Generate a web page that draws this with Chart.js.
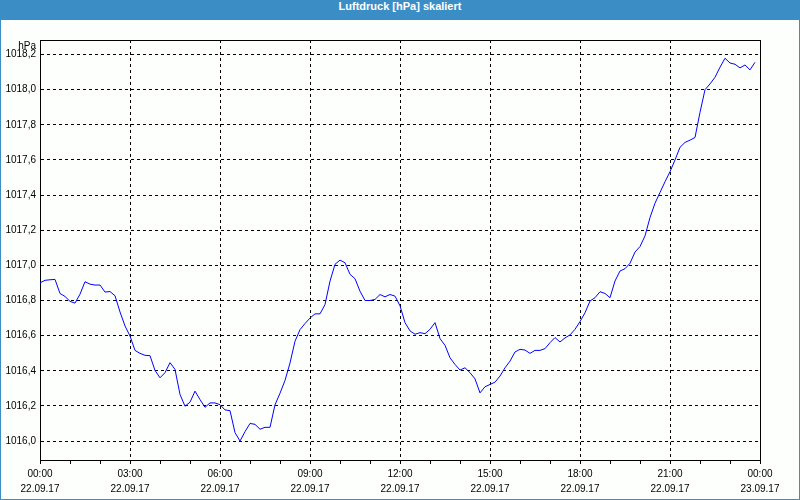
<!DOCTYPE html>
<html>
<head>
<meta charset="utf-8">
<script src="https://cdn.jsdelivr.net/npm/chart.js@4.4.1/dist/chart.umd.min.js"></script>
<style>
body{margin:0;background:#fff;}
#frame{position:relative;width:800px;height:500px;background:#3b8dc6;}
#title{height:20px;line-height:20px;text-align:center;color:#fff;font:bold 11px "Liberation Sans",Arial,sans-serif;}
#box{position:absolute;left:1px;top:20px;width:798px;height:479px;background:#fdfffd;}
</style>
</head>
<body>
<div id="frame">
<div id="title">Luftdruck [hPa] skaliert</div>
<div id="box"><canvas id="myChart"></canvas></div>
</div>
<script>
// Luftdruck 22.09.17, alle 10 Minuten ab 00:00
var stepHours=10/60;
var pressure=[
1016.900,1016.915,1016.918,1016.920,1016.840,1016.823,
1016.795,1016.785,1016.836,1016.907,1016.893,1016.888,
1016.888,1016.848,1016.851,1016.827,1016.735,1016.655,
1016.598,1016.516,1016.499,1016.488,1016.486,1016.402,
1016.360,1016.389,1016.446,1016.408,1016.265,1016.198,
1016.221,1016.284,1016.236,1016.192,1016.217,1016.217,
1016.207,1016.177,1016.173,1016.048,1016.000,1016.053,
1016.100,1016.095,1016.067,1016.078,1016.078,1016.206,
1016.272,1016.345,1016.444,1016.568,1016.634,1016.669,
1016.700,1016.724,1016.724,1016.777,1016.910,1017.006,
1017.030,1017.015,1016.949,1016.924,1016.853,1016.800,
1016.800,1016.806,1016.834,1016.821,1016.834,1016.825,
1016.770,1016.674,1016.627,1016.608,1016.617,1016.611,
1016.636,1016.674,1016.583,1016.545,1016.474,1016.436,
1016.404,1016.417,1016.389,1016.354,1016.274,1016.309,
1016.322,1016.335,1016.370,1016.417,1016.455,1016.507,
1016.522,1016.518,1016.499,1016.516,1016.516,1016.526,
1016.560,1016.589,1016.564,1016.587,1016.604,1016.636,
1016.680,1016.730,1016.797,1016.816,1016.850,1016.840,
1016.816,1016.911,1016.968,1016.981,1017.012,1017.076,
1017.107,1017.168,1017.272,1017.354,1017.415,1017.476,
1017.533,1017.600,1017.672,1017.700,1017.713,1017.728,
1017.871,1018.000,1018.033,1018.071,1018.128,1018.179,
1018.152,1018.145,1018.124,1018.141,1018.113,1018.156
];
var yTickValues=[1016.0,1016.2,1016.4,1016.6,1016.8,1017.0,1017.2,1017.4,1017.6,1017.8,1018.0,1018.2];
var xTimeLabels=['00:00','03:00','06:00','09:00','12:00','15:00','18:00','21:00','00:00'];
var xDateLabels=['22.09.17','22.09.17','22.09.17','22.09.17','22.09.17','22.09.17','22.09.17','22.09.17','23.09.17'];
var yUnit='hPa';

var points=[];
for(var i=0;i<pressure.length;i++)
{
    points.push({x:i*stepHours,y:pressure[i]});
}
var hourTicks=[];
for(var h=0;h<=24;h++)
{
    hourTicks.push({value:h});
}

var font={family:'"Liberation Sans", Arial, sans-serif',size:10,lineHeight:1.45};

var framePlugin={
    id:'frame',
    beforeDatasetsDraw:function(chart){
        var a=chart.chartArea, ctx=chart.ctx;
        ctx.save();
        ctx.strokeStyle='#000';
        ctx.lineWidth=1;
        ctx.strokeRect(Math.round(a.left)+0.5,Math.round(a.top)+0.5,Math.round(a.right-a.left),Math.round(a.bottom-a.top));
        ctx.fillStyle='#000';
        ctx.font='10px "Liberation Sans", Arial, sans-serif';
        ctx.textAlign='right';
        ctx.textBaseline='middle';
        ctx.fillText(yUnit,a.left-4,a.top+6);
        ctx.restore();
    }
};

new Chart('myChart',{
    type:'line',
    data:{
        datasets:[{
            data:points,
            borderColor:'#0000ff',
            borderWidth:1,
            pointRadius:0,
            tension:0,
            fill:false
        }]
    },
    options:{
        responsive:true,
        maintainAspectRatio:false,
        animation:false,
        layout:{padding:{left:0,right:39,top:20,bottom:0}},
        plugins:{legend:{display:false},tooltip:{enabled:false}},
        scales:{
            x:{
                type:'linear',
                min:0,
                max:24,
                afterBuildTicks:function(scale){scale.ticks=hourTicks.slice();},
                afterFit:function(scale){scale.height=39;},
                grid:{
                    color:function(c){return c.tick && c.tick.value%3===0?'#000':'rgba(0,0,0,0)';},
                    tickColor:'#000',
                    tickLength:4,
                    lineWidth:1
                },
                border:{display:true,color:'#000',dash:[3,3]},
                ticks:{
                    color:'#000',
                    font:font,
                    padding:3,
                    maxRotation:0,
                    autoSkip:false,
                    callback:function(v){
                        if(v%3!==0) return '';
                        return [xTimeLabels[v/3],xDateLabels[v/3]];
                    }
                }
            },
            y:{
                min:1015.892,
                max:1018.283,
                afterBuildTicks:function(scale){scale.ticks=yTickValues.map(function(v){return {value:v};});},
                afterFit:function(scale){scale.width=39;},
                grid:{color:'#000',drawTicks:false,lineWidth:1},
                border:{display:true,color:'#000',dash:[3,3]},
                ticks:{
                    color:'#000',
                    font:{family:'"Liberation Sans", Arial, sans-serif',size:10},
                    padding:4,
                    callback:function(v){return v.toFixed(1).replace('.',',');}
                }
            }
        }
    },
    plugins:[framePlugin]
});
</script>
</body>
</html>
